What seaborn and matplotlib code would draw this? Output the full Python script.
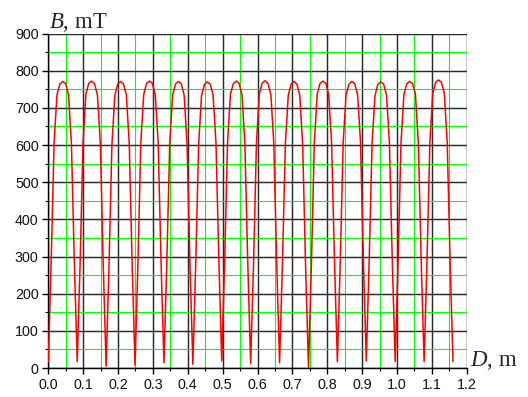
import numpy as np
import pandas as pd
import matplotlib
matplotlib.use("Agg")
import matplotlib.pyplot as plt
from matplotlib.ticker import MultipleLocator, FormatStrFormatter
import seaborn as sns

# ---- data ----
D = [0.0000, 0.0083, 0.0166, 0.0249, 0.0332, 0.0415, 0.0497, 0.0580, 0.0663, 0.0746,
     0.0829, 0.0912, 0.0995, 0.1078, 0.1161, 0.1244, 0.1326, 0.1409, 0.1492, 0.1575,
     0.1658, 0.1741, 0.1824, 0.1907, 0.1990, 0.2073, 0.2155, 0.2238, 0.2321, 0.2404,
     0.2487, 0.2570, 0.2653, 0.2736, 0.2819, 0.2902, 0.2984, 0.3067, 0.3150, 0.3233,
     0.3316, 0.3399, 0.3482, 0.3565, 0.3648, 0.3731, 0.3813, 0.3896, 0.3979, 0.4062,
     0.4145, 0.4228, 0.4311, 0.4394, 0.4477, 0.4560, 0.4642, 0.4725, 0.4808, 0.4891,
     0.4974, 0.5057, 0.5140, 0.5223, 0.5306, 0.5389, 0.5471, 0.5554, 0.5637, 0.5720,
     0.5803, 0.5886, 0.5969, 0.6052, 0.6135, 0.6218, 0.6300, 0.6383, 0.6466, 0.6549,
     0.6632, 0.6715, 0.6798, 0.6881, 0.6964, 0.7047, 0.7129, 0.7212, 0.7295, 0.7378,
     0.7461, 0.7544, 0.7627, 0.7710, 0.7793, 0.7876, 0.7958, 0.8041, 0.8124, 0.8207,
     0.8290, 0.8373, 0.8456, 0.8539, 0.8622, 0.8705, 0.8787, 0.8870, 0.8953, 0.9036,
     0.9119, 0.9202, 0.9285, 0.9368, 0.9451, 0.9534, 0.9616, 0.9699, 0.9782, 0.9865,
     0.9948, 1.0031, 1.0114, 1.0197, 1.0280, 1.0363, 1.0445, 1.0528, 1.0611, 1.0694,
     1.0777, 1.0860, 1.0943, 1.1026, 1.1109, 1.1192, 1.1274, 1.1357, 1.1440, 1.1523,
     1.1606]

B = [17, 290, 607, 736, 764, 771, 766, 735, 603, 284,
     17, 281, 603, 737, 766, 772, 765, 734, 606, 279,
     5, 276, 601, 733, 764, 771, 764, 735, 604, 280,
     8, 280, 606, 736, 766, 772, 766, 736, 607, 286,
     14, 285, 604, 734, 764, 771, 765, 734, 602, 281,
     10, 282, 602, 733, 763, 770, 764, 735, 607, 289,
     19, 288, 607, 737, 765, 772, 766, 736, 604, 283,
     12, 284, 606, 738, 767, 773, 766, 735, 605, 285,
     14, 283, 603, 734, 764, 771, 764, 733, 600, 274,
     2, 274, 601, 736, 766, 772, 766, 736, 606, 288,
     17, 287, 606, 735, 764, 771, 765, 736, 607, 290,
     19, 289, 605, 733, 763, 770, 764, 735, 606, 287,
     17, 286, 605, 735, 765, 771, 766, 737, 607, 287,
     17, 288, 609, 740, 769, 775, 769, 739, 606, 286,
     17]

x_ticks = [0.0, 0.1, 0.2, 0.3, 0.4, 0.5, 0.6, 0.7, 0.8, 0.9, 1.0, 1.1, 1.2]
y_ticks = [0, 100, 200, 300, 400, 500, 600, 700, 800, 900]

sns.set_style("white")
plt.rcParams["font.family"] = ["Liberation Sans", "DejaVu Sans"]
plt.rcParams["mathtext.fontset"] = "custom"
plt.rcParams["mathtext.it"] = "Liberation Serif:italic"
plt.rcParams["mathtext.rm"] = "Liberation Serif"

fig = plt.figure(figsize=(5.28, 3.97), dpi=100)
ax = fig.add_axes([0.0915, 0.0730, 0.7925, 0.8426])

df = pd.DataFrame({"D": D, "B": B})
sns.lineplot(data=df, x="D", y="B", color="#ff0000", linewidth=1.1,
             sort=False, estimator=None, ax=ax, zorder=5)

ax.set_xlim(0, 1.2)
ax.set_ylim(0, 900)
ax.set_xticks(x_ticks)
ax.set_yticks(y_ticks)
ax.xaxis.set_major_formatter(FormatStrFormatter("%.1f"))
ax.xaxis.set_minor_locator(MultipleLocator(0.05))
ax.yaxis.set_minor_locator(MultipleLocator(50))
ax.set_xlabel("")
ax.set_ylabel("")

ax.set_axisbelow(True)
ax.grid(which="minor", color="#00ff00", linewidth=0.8, zorder=0)
ax.grid(which="major", color="#2a2a2a", linewidth=1.05, zorder=1)

for s in ["top", "right"]:
    ax.spines[s].set_visible(False)
for s in ["left", "bottom"]:
    ax.spines[s].set_color("black")
    ax.spines[s].set_linewidth(1.0)

ax.tick_params(which="major", direction="out", length=4, width=1.0,
               color="black", labelsize=10.3, labelcolor="#111111", pad=3,
               bottom=True, left=True)
ax.tick_params(which="minor", direction="out", length=2.5, width=0.8,
               color="black", bottom=True, left=True)

fig.text(49 / 528, 1 - 28 / 397, r"$B$, mT", fontsize=16.5,
         family="Liberation Serif", ha="left", va="baseline")
fig.text(470.5 / 528, 1 - 366 / 397, r"$D$, m", fontsize=16.5,
         family="Liberation Serif", ha="left", va="baseline")

fig.savefig("out.png", dpi=100)
